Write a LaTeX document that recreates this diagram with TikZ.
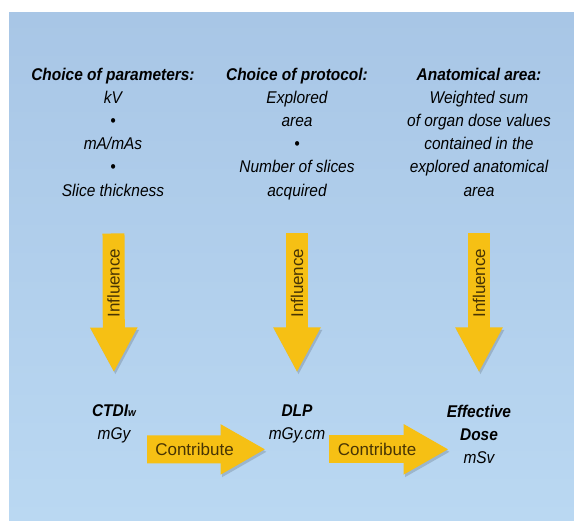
\documentclass[tikz,border=0pt]{standalone}
\usepackage{fontspec}
\usepackage{xcolor}
\usepackage{tikz}
\usetikzlibrary{arrows.meta, positioning, calc}
\newfontfamily\dosefont{Liberation Sans}[FakeStretch=0.91]
\newfontfamily\arrowfont{Liberation Sans}
\definecolor{bgtop}{RGB}{168,198,230}
\definecolor{bgbottom}{RGB}{186,216,242}
\definecolor{arrowgold}{RGB}{246,192,20}
\definecolor{arrowtext}{RGB}{72,52,4}

\begin{document}
\begin{tikzpicture}[x=1pt, y=-1pt,
  coltext/.style={anchor=north, inner sep=0pt, align=center, font=\dosefont\itshape\fontsize{17}{23.2}\selectfont},
  fatarrow/.style={draw=arrowgold, preaction={draw=black, draw opacity=0.15, transform canvas={shift={(1.5pt,-2.5pt)}}}},
  influence/.style={fatarrow, line width=22pt, -{Triangle[length=45pt, width=44pt]}, shorten <=166pt, shorten >=32pt},
  contribute/.style={fatarrow, line width=28pt, -{Triangle[length=45pt, width=47pt]}},
  arrowlabel/.style={inner sep=0pt, text=arrowtext, font=\arrowfont\fontsize{17}{17}\selectfont}]
  \useasboundingbox (0,0) rectangle (574,521);
  \fill[white] (0,0) rectangle (574,521);
  \shade[top color=bgtop, bottom color=bgbottom] (9,13) rectangle (574,521);

  \node[coltext] (params) at (113,67.5) {\textbf{Choice of parameters:}\\kV\\\textbullet\\mA/mAs\\\textbullet\\Slice thickness};
  \node[coltext] (protocol) at (297,67.5) {\textbf{Choice of protocol:}\\Explored\\area\\\textbullet\\Number of slices\\acquired};
  \node[coltext] (anatomy) at (479,67.5) {\textbf{Anatomical area:}\\Weighted sum\\of organ dose values\\contained in the\\explored anatomical\\area};

  \node[coltext] (ctdi) at (114,404.5) {\textbf{CTDI{\fontsize{11}{11}\selectfont w}}\\mGy};
  \node[coltext] (dlp) at (297,404.5) {\textbf{DLP}\\mGy.cm};
  \node[coltext] (eff) at (479,404.5) {\textbf{Effective}\\\textbf{Dose}\\mSv};

  \draw[influence] (params.north) -- (ctdi.north) node[arrowlabel, pos=0.64, rotate=90] {Influence};
  \draw[influence] (protocol.north) -- (dlp.north) node[arrowlabel, pos=0.64, rotate=90] {Influence};
  \draw[influence] (anatomy.north) -- (eff.north) node[arrowlabel, pos=0.64, rotate=90] {Influence};

  \draw[contribute] ([xshift=11pt,yshift=-6pt]ctdi.south east) -- ([xshift=-3pt,yshift=-6pt]dlp.south west) node[arrowlabel, pos=0.4] {Contribute};
  \draw[contribute] ([xshift=4pt,yshift=-6pt]dlp.south east) -- ([xshift=2pt,yshift=-6pt]eff.west |- dlp.south) node[arrowlabel, pos=0.4] {Contribute};
\end{tikzpicture}
\end{document}
